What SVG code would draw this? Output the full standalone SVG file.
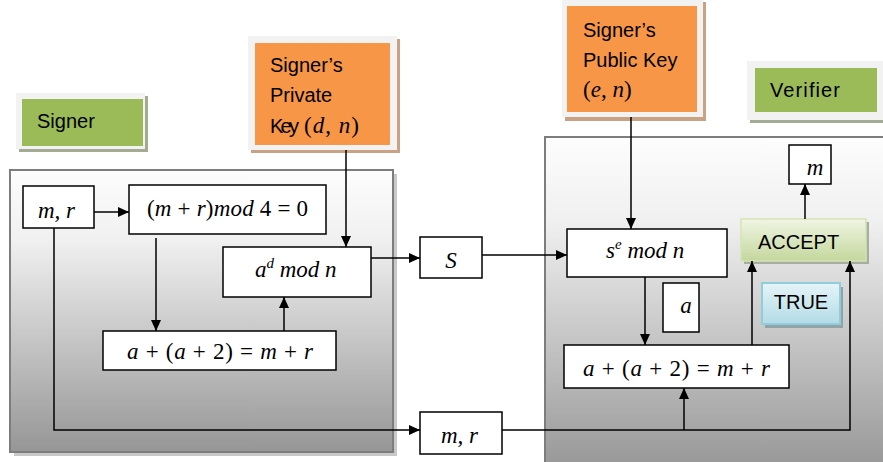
<svg xmlns="http://www.w3.org/2000/svg" width="883" height="462" viewBox="0 0 883 462">
<defs>
  <linearGradient id="gPanel" x1="0" y1="0" x2="0" y2="1">
    <stop offset="0" stop-color="#fdfdfd"/>
    <stop offset="0.25" stop-color="#f0f0f0"/>
    <stop offset="1" stop-color="#969696"/>
  </linearGradient>
  <linearGradient id="gAccept" x1="0" y1="0" x2="0" y2="1">
    <stop offset="0" stop-color="#f0f5e3"/>
    <stop offset="1" stop-color="#c4d79d"/>
  </linearGradient>
  <linearGradient id="gTrue" x1="0" y1="0" x2="0" y2="1">
    <stop offset="0" stop-color="#e6f4f8"/>
    <stop offset="1" stop-color="#b3dbe6"/>
  </linearGradient>
  <marker id="arr" viewBox="0 0 11 10" refX="11" refY="5" markerWidth="11" markerHeight="10" markerUnits="userSpaceOnUse" orient="auto">
    <path d="M0,0 L11,5 L0,10 z" fill="#000"/>
  </marker>
  <style>
    .box{fill:#fff;stroke:#000;stroke-width:1.5}
    .conn{fill:none;stroke:#000;stroke-width:1.5;marker-end:url(#arr)}
    .lbl{font-family:"Liberation Sans",Arial,sans-serif;font-size:20px;fill:#000}
    .math{font-family:"Liberation Serif","Times New Roman",serif;font-size:23px;fill:#000}
    .it{font-style:italic}
    .frame{fill:#f2f2f2}
    .panel{fill:url(#gPanel);stroke:#7d7d7d;stroke-width:2}
  </style>
</defs>

<!-- panels -->
<g id="signer-panel">
  <rect x="14" y="174" width="383" height="282" fill="#c8c8c8"/>
  <rect class="panel" x="10" y="170" width="383" height="282"/>
</g>
<g id="verifier-panel">
  <rect class="panel" x="545" y="137" width="345" height="335"/>
</g>

<!-- label boxes -->
<g id="signer-label">
  <rect x="19" y="96" width="129" height="56" fill="#a3ab92"/>
  <rect class="frame" x="16" y="93" width="129" height="56"/>
  <rect x="22" y="99" width="121" height="47" fill="#9bbb59"/>
  <text class="lbl" x="37" y="128" font-size="21">Signer</text>
</g>
<g id="private-key">
  <rect x="251" y="39" width="149" height="114" fill="#c9a284"/>
  <rect class="frame" x="248" y="36" width="149" height="114"/>
  <rect x="255" y="43" width="135" height="102" fill="#f79646"/>
  <text class="lbl" x="270" y="72">Signer’s</text>
  <text class="lbl" x="270" y="102">Private</text>
  <text class="lbl" x="270" y="133" textLength="29">Key</text>
  <text class="math" x="304" y="133" font-size="24" letter-spacing="1">(<tspan class="it">d</tspan>, <tspan class="it">n</tspan>)</text>
</g>
<g id="public-key">
  <rect x="565" y="2" width="141" height="119" fill="#c9a284"/>
  <rect class="frame" x="562" y="-1" width="141" height="118"/>
  <rect x="567" y="6" width="130" height="106" fill="#f79646"/>
  <text class="lbl" x="583" y="37">Signer’s</text>
  <text class="lbl" x="583" y="67">Public Key</text>
  <text class="math" x="583" y="97" font-size="24">(<tspan class="it">e</tspan>, <tspan class="it">n</tspan>)</text>
</g>
<g id="verifier-label">
  <rect x="750" y="64" width="140" height="59" fill="#a3ab92"/>
  <rect class="frame" x="747" y="61" width="140" height="59"/>
  <rect x="755" y="68" width="122" height="44" fill="#9bbb59"/>
  <text class="lbl" x="770" y="97" font-size="21" textLength="70">Verifier</text>
</g>

<!-- signer nodes -->
<g id="mr-in">
  <rect class="box" x="23" y="186" width="71" height="42"/>
  <text class="math it" x="38" y="218">m, r</text>
</g>
<g id="mod4">
  <rect class="box" x="129" y="185" width="197" height="49"/>
  <text class="math" x="147" y="216" textLength="161">(<tspan class="it">m</tspan> + <tspan class="it">r</tspan>)<tspan class="it">mod</tspan> 4 = 0</text>
</g>
<g id="ad-mod-n">
  <rect class="box" x="223" y="247" width="148" height="50"/>
  <text class="math it" x="255" y="277">a<tspan font-size="15" dy="-9">d</tspan><tspan dy="9"> mod n</tspan></text>
</g>
<g id="eq-signer">
  <rect class="box" x="103" y="331" width="233" height="39"/>
  <text class="math" x="127" y="359" textLength="186"><tspan class="it">a</tspan> + (<tspan class="it">a</tspan> + 2) = <tspan class="it">m</tspan> + <tspan class="it">r</tspan></text>
</g>

<!-- transfer nodes -->
<g id="s-node">
  <rect class="box" x="420" y="237" width="62" height="41"/>
  <text class="math it" x="451" y="268" font-size="25" text-anchor="middle">S</text>
</g>
<g id="mr-out">
  <rect class="box" x="420" y="412" width="82" height="42"/>
  <text class="math it" x="441" y="443">m, r</text>
</g>

<!-- verifier nodes -->
<g id="se-mod-n">
  <rect class="box" x="567" y="229" width="160" height="48"/>
  <text class="math it" x="606" y="258">s<tspan font-size="15" dy="-9">e</tspan><tspan dy="9"> mod n</tspan></text>
</g>
<g id="a-node">
  <rect class="box" x="663" y="283" width="36" height="49"/>
  <text class="math it" x="686" y="313" font-size="24" text-anchor="middle">a</text>
</g>
<g id="eq-verifier">
  <rect class="box" x="564" y="345" width="225" height="43"/>
  <text class="math" x="583" y="376" textLength="187"><tspan class="it">a</tspan> + (<tspan class="it">a</tspan> + 2) = <tspan class="it">m</tspan> + <tspan class="it">r</tspan></text>
</g>
<g id="accept">
  <rect x="744" y="222" width="125" height="42" fill="#a9ad9f"/>
  <rect x="741" y="219" width="125" height="42" fill="url(#gAccept)" stroke="#d5e3b8" stroke-width="1.5"/>
  <text class="lbl" x="758" y="249" font-size="18">ACCEPT</text>
</g>
<g id="true">
  <rect x="765" y="287" width="78" height="41" fill="#8fa3a9"/>
  <rect x="762" y="283" width="78" height="41" fill="url(#gTrue)" stroke="#92cddc" stroke-width="2"/>
  <text class="lbl" x="801" y="309" font-size="15" text-anchor="middle">TRUE</text>
</g>
<g id="m-node">
  <rect class="box" x="789" y="145" width="42" height="39"/>
  <text class="math it" x="815" y="175" font-size="21" text-anchor="middle">m</text>
</g>

<!-- connectors -->
<g id="connectors">
  <path class="conn" d="M94,212 H129"/>
  <path class="conn" d="M156,238 V331"/>
  <path class="conn" d="M284,331 V297"/>
  <path class="conn" d="M346,150 V247"/>
  <path class="conn" d="M371,258 H420"/>
  <path class="conn" d="M482,255 H567"/>
  <path class="conn" d="M631,117 V229"/>
  <path class="conn" d="M645,277 V345"/>
  <path class="conn" d="M54,228 V430 H420"/>
  <path class="conn" d="M502,430 H850 V261"/>
  <path class="conn" d="M684,430 V388"/>
  <path class="conn" d="M752,345 V261"/>
  <path class="conn" d="M805,219 V184"/>
</g>
</svg>
